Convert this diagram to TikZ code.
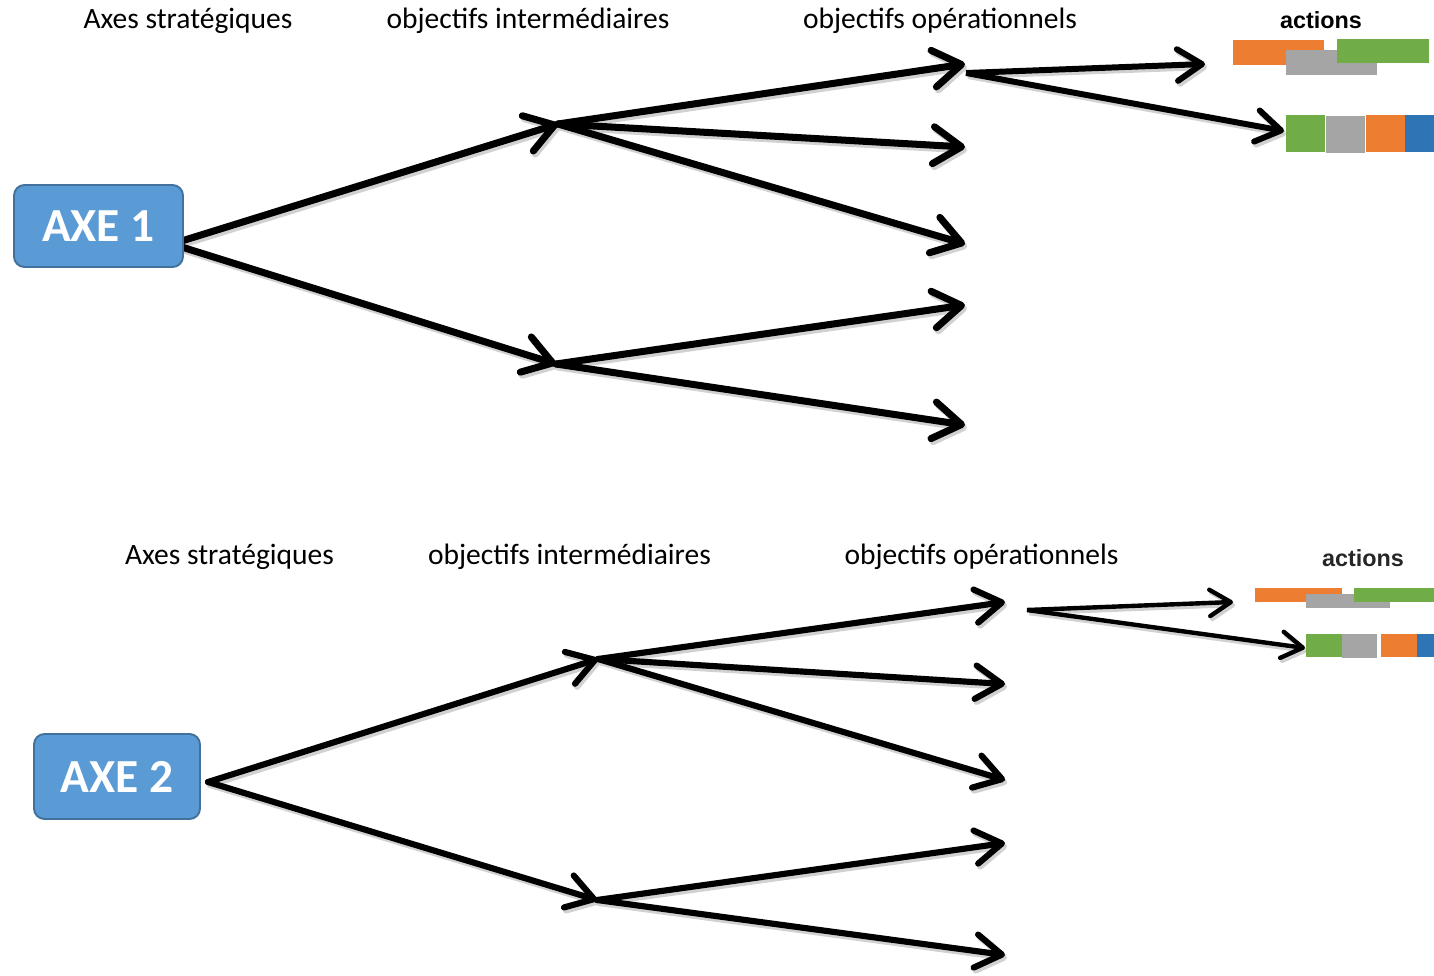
\documentclass[tikz,border=0pt]{standalone}
\usepackage{fontspec}
\setmainfont{Carlito}
\newfontfamily\actfont{Liberation Sans}
\usetikzlibrary{arrows.meta}

\definecolor{axefill}{HTML}{5B9BD5}
\definecolor{axeline}{HTML}{41719C}
\definecolor{actorange}{HTML}{ED7D31}
\definecolor{actgray}{HTML}{A5A5A5}
\definecolor{actgreen}{HTML}{70AD47}
\definecolor{actblue}{HTML}{2E75B6}

\begin{document}
\begin{tikzpicture}[x=0.02cm,y=-0.02cm,
  hdr/.style={font=\fontsize{16.8}{18}\selectfont},
  acthdr/.style={font=\actfont\bfseries\fontsize{13.3}{15}\selectfont},
  axebox/.style={draw=axeline, line width=1.1pt, fill=axefill, rounded corners=6pt,
    text=white, font=\bfseries\fontsize{27}{30}\selectfont, inner sep=0pt},
  bigarrow/.style={line width=4pt, line cap=round,
    -{Straight Barb[length=16pt,width=21pt,round]}},
  smallarrow/.style={line width=3.4pt,
    -{Straight Barb[length=14pt,width=18pt,round]}},
  bigarrowB/.style={line width=3.5pt, line cap=round,
    -{Straight Barb[length=15pt,width=19pt,round]}},
  smallarrowB/.style={line width=2.5pt,
    -{Straight Barb[length=12pt,width=15pt,round]}},
  shadow/.style={draw=black!18, transform canvas={shift={(0.04cm,-0.06cm)}}}
]
\useasboundingbox (0,0) rectangle (1434,976);

% ---------- first axis: junction points ----------
\coordinate (s1) at (172,244);
\coordinate (h1) at (558,124);
\coordinate (h2) at (556,364);
\coordinate (t1) at (965,64);
\coordinate (t2) at (965,147);
\coordinate (t3) at (965,244);
\coordinate (t4) at (965,305);
\coordinate (t5) at (965,425);
\coordinate (o1) at (966,73);
\coordinate (a1) at (1205,64);
\coordinate (a2) at (1284,131);

% ---------- second axis: junction points ----------
\coordinate (s2) at (208,782);
\coordinate (g1) at (598,659);
\coordinate (g2) at (597,900);
\coordinate (u1) at (1005,602);
\coordinate (u2) at (1005,684);
\coordinate (u3) at (1005,780);
\coordinate (u4) at (1005,843);
\coordinate (u5) at (1005,955);
\coordinate (o2) at (1027,610);
\coordinate (b1) at (1233,602);
\coordinate (b2) at (1305,648);

% soft shadows first
\foreach \a/\b in {s1/h1,s1/h2,h1/t1,h1/t2,h1/t3,h2/t4,h2/t5}
  \draw[bigarrow,shadow] (\a) -- (\b);
\foreach \a/\b in {o1/a1,o1/a2}
  \draw[smallarrow,shadow] (\a) -- (\b);
\foreach \a/\b in {s2/g1,s2/g2,g1/u1,g1/u2,g1/u3,g2/u4,g2/u5}
  \draw[bigarrowB,shadow] (\a) -- (\b);
\foreach \a/\b in {o2/b1,o2/b2}
  \draw[smallarrowB,shadow] (\a) -- (\b);

% the arrows
\foreach \a/\b in {s1/h1,s1/h2,h1/t1,h1/t2,h1/t3,h2/t4,h2/t5}
  \draw[bigarrow] (\a) -- (\b);
\foreach \a/\b in {o1/a1,o1/a2}
  \draw[smallarrow] (\a) -- (\b);
\foreach \a/\b in {s2/g1,s2/g2,g1/u1,g1/u2,g1/u3,g2/u4,g2/u5}
  \draw[bigarrowB] (\a) -- (\b);
\foreach \a/\b in {o2/b1,o2/b2}
  \draw[smallarrowB] (\a) -- (\b);

% axis boxes
\node[axebox, minimum width=3.38cm, minimum height=1.64cm] (axe1) at (98.5,226) {AXE 1};
\node[axebox, minimum width=3.32cm, minimum height=1.70cm] (axe2) at (117,776.5) {AXE 2};

% column headings
\node[hdr] (h1a) at (188,21) {Axes stratégiques};
\node[hdr] (h1b) at (528,21) {objectifs intermédiaires};
\node[hdr] (h1c) at (940,21) {objectifs opérationnels};
\node[acthdr] (h1d) at (1321,20) {actions};
\node[hdr] (h2a) at (229.5,557) {Axes stratégiques};
\node[hdr] (h2b) at (569.5,557) {objectifs intermédiaires};
\node[hdr] (h2c) at (981.5,557) {objectifs opérationnels};
\node[acthdr, text=black!85] (h2d) at (1363,558) {actions};

% action bars, first axis
\fill[actorange] (1233,40) rectangle (1324,65);
\fill[actgray]   (1286,50) rectangle (1377,75);
\fill[actgreen]  (1337,39) rectangle (1429,63);
\fill[actgreen]  (1286,115) rectangle (1325,152);
\fill[actgray]   (1326,116) rectangle (1365,153);
\fill[actorange] (1366,115) rectangle (1405,152);
\fill[actblue]   (1405,115) rectangle (1434,152);

% action bars, second axis
\fill[actorange] (1255,588) rectangle (1342,602);
\fill[actgray]   (1306,594) rectangle (1390,608);
\fill[actgreen]  (1354,588) rectangle (1434,602);
\fill[actgreen]  (1306,634) rectangle (1342,657);
\fill[actgray]   (1342,634) rectangle (1377,658);
\fill[actorange] (1381,634) rectangle (1417,657);
\fill[actblue]   (1417,634) rectangle (1434,657);
\end{tikzpicture}
\end{document}
